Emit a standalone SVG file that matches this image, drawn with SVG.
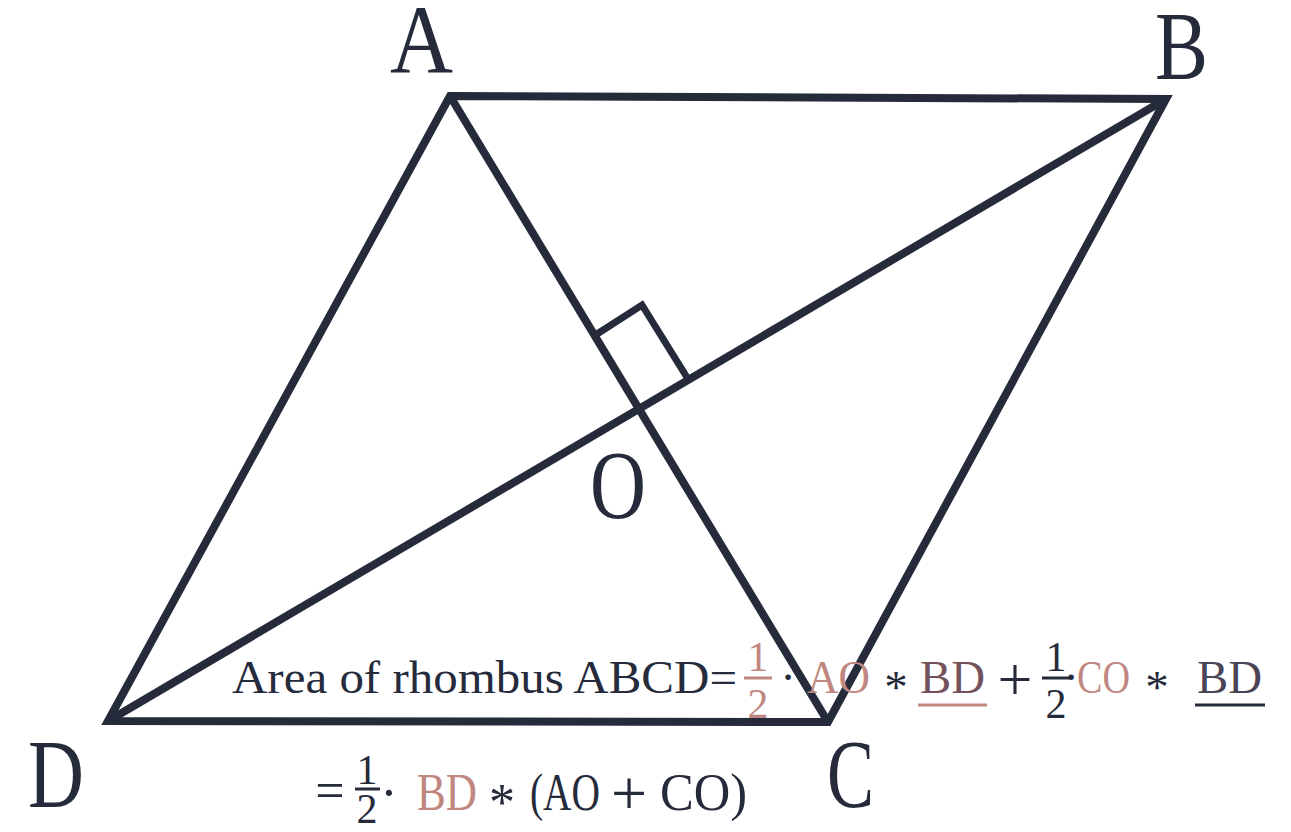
<svg xmlns="http://www.w3.org/2000/svg" width="1291" height="832" viewBox="0 0 1291 832">
<style>
.edge{fill:none;stroke:#262b3b;stroke-width:8;stroke-linejoin:miter;stroke-linecap:butt}
.mark{fill:none;stroke:#262b3b;stroke-width:7;stroke-linejoin:miter}
.lbl{font-family:"Liberation Serif",serif;font-size:97px;fill:#262b3b}
.f{font-family:"Liberation Serif",serif;fill:#262b3b}
.pk{fill:#bf8780}
.bar{stroke-width:3}
</style>
<rect width="1291" height="832" fill="#ffffff"/>
<g id="connectors">
  <polygon class="edge" points="450,96 1166,99 828,722 108,721"/>
  <line class="edge" x1="450" y1="96" x2="828" y2="722"/>
  <line class="edge" x1="1166" y1="99" x2="108" y2="721"/>
  <polyline class="mark" points="597,334 642,305 688,379"/>
</g>
<g id="node-A"><text class="lbl" x="390" y="72" textLength="63" lengthAdjust="spacingAndGlyphs">A</text></g>
<g id="node-B"><text class="lbl" x="1155" y="79" textLength="53" lengthAdjust="spacingAndGlyphs">B</text></g>
<g id="node-C"><text class="lbl" x="827" y="807" textLength="47" lengthAdjust="spacingAndGlyphs">C</text></g>
<g id="node-D"><text class="lbl" x="28" y="807" textLength="56" lengthAdjust="spacingAndGlyphs">D</text></g>
<g id="node-O"><text class="lbl" x="590" y="518" textLength="56" lengthAdjust="spacingAndGlyphs">O</text></g>
<g id="formula1">
  <text class="f" font-size="47" x="232" y="693" textLength="505" lengthAdjust="spacingAndGlyphs">Area of rhombus ABCD=</text>
  <text class="f pk" font-size="42" x="758" y="671" text-anchor="middle">1</text>
  <line x1="744" y1="678" x2="772" y2="678" stroke="#bf8780" class="bar"/>
  <text class="f pk" font-size="42" x="758" y="718" text-anchor="middle">2</text>
  <text class="f" font-size="47" x="788" y="693" text-anchor="middle">·</text>
  <text class="f pk" font-size="47" x="807" y="693" textLength="63" lengthAdjust="spacingAndGlyphs">AO</text>
  <text class="f" font-size="47" x="896" y="703" text-anchor="middle">*</text>
  <text class="f" font-size="47" x="920" y="693" textLength="65" lengthAdjust="spacingAndGlyphs" style="fill:#73525c">BD</text>
  <line x1="918" y1="705" x2="987" y2="705" stroke="#bf8780" class="bar"/>
  <text class="f" font-size="62" x="1015" y="700" text-anchor="middle">+</text>
  <text class="f" font-size="42" x="1056" y="671" text-anchor="middle">1</text>
  <line x1="1042" y1="678" x2="1070" y2="678" stroke="#262b3b" class="bar"/>
  <text class="f" font-size="42" x="1056" y="718" text-anchor="middle">2</text>
  <text class="f" font-size="47" x="1071" y="693" text-anchor="middle">·</text>
  <text class="f pk" font-size="47" x="1077" y="693" textLength="53" lengthAdjust="spacingAndGlyphs">CO</text>
  <text class="f" font-size="47" x="1157" y="703" text-anchor="middle">*</text>
  <text class="f" font-size="47" x="1197" y="693" textLength="65" lengthAdjust="spacingAndGlyphs" style="fill:#4b4356">BD</text>
  <line x1="1195" y1="705" x2="1265" y2="705" stroke="#262b3b" class="bar"/>
</g>
<g id="formula2">
  <text class="f" font-size="52" x="330" y="808" text-anchor="middle">=</text>
  <text class="f" font-size="42" x="367" y="784" text-anchor="middle">1</text>
  <line x1="355" y1="789" x2="380" y2="789" stroke="#262b3b" class="bar"/>
  <text class="f" font-size="42" x="367" y="823" text-anchor="middle">2</text>
  <text class="f" font-size="52" x="389" y="810" text-anchor="middle">·</text>
  <text class="f pk" font-size="52" x="417" y="810" textLength="60" lengthAdjust="spacingAndGlyphs">BD</text>
  <text class="f" font-size="52" x="502" y="820" text-anchor="middle">*</text>
  <text class="f" font-size="52" x="530" y="810" textLength="70" lengthAdjust="spacingAndGlyphs">(AO</text>
  <text class="f" font-size="64" x="629" y="815" text-anchor="middle">+</text>
  <text class="f" font-size="52" x="660" y="810" textLength="87" lengthAdjust="spacingAndGlyphs">CO)</text>
</g>
</svg>
